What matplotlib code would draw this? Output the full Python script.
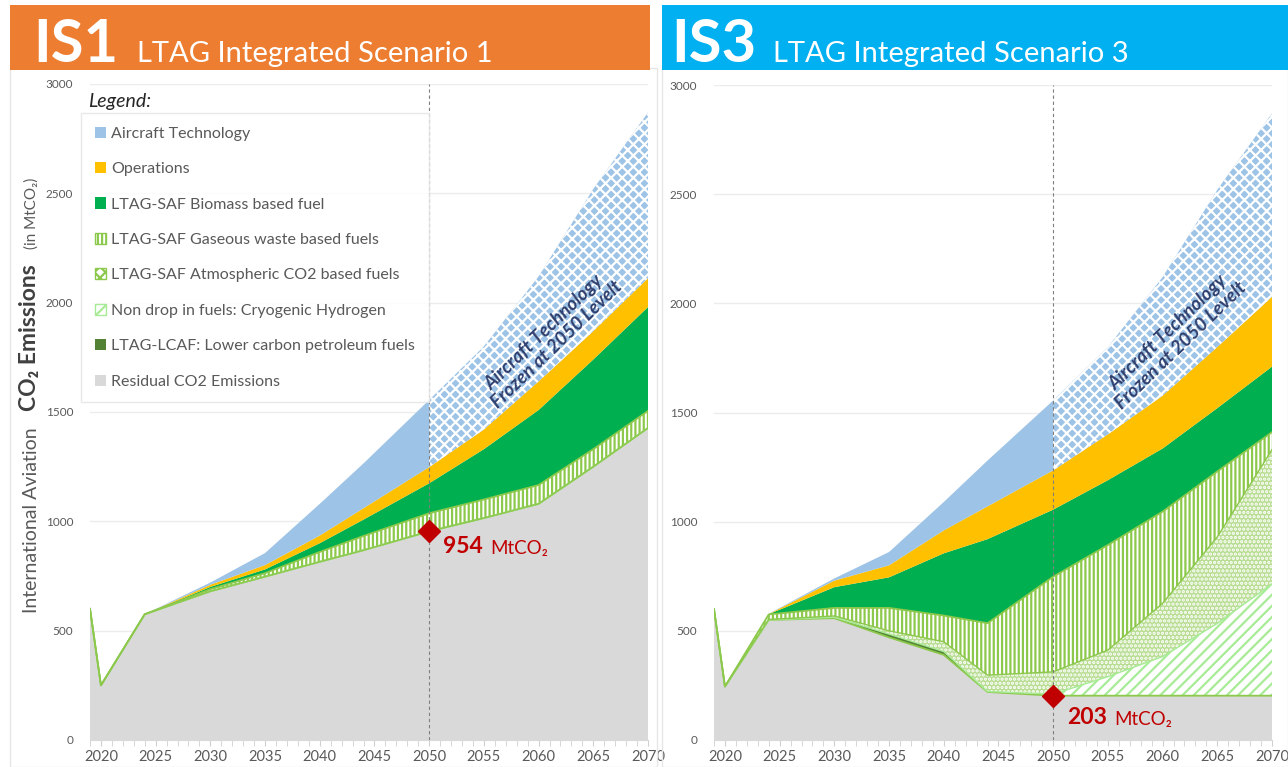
import numpy as np
import matplotlib
matplotlib.use("Agg")
import matplotlib.pyplot as plt
from matplotlib.patches import Patch, Rectangle

plt.rcParams['font.family'] = ['Lato', 'DejaVu Sans']
plt.rcParams['hatch.linewidth'] = 1.6

# ---------------- data (MtCO2) ----------------
years = [2019, 2020, 2024, 2030, 2035, 2040, 2044, 2050, 2055, 2060, 2065, 2070]

# IS1 - contribution of each layer
is1_residual = [600, 250, 575, 680, 747, 815, 868, 954, 1015, 1080, 1250, 1427]
is1_lcaf     = [0, 0, 0, 0, 0, 0, 0, 0, 0, 0, 0, 0]
is1_h2       = [0, 0, 0, 0, 0, 0, 0, 0, 0, 0, 0, 0]
is1_atm      = [0, 0, 0, 0, 0, 0, 0, 0, 0, 0, 0, 0]
is1_gaseous  = [0, 0, 0, 10, 16, 45, 65, 83, 85, 86, 80, 78]
is1_biomass  = [0, 0, 0, 10, 17, 40, 75, 137, 230, 343, 410, 475]
is1_ops      = [0, 0, 0, 10, 20, 35, 52, 74, 90, 131, 130, 132]
is1_aircraft = [0, 0, 0, 10, 55, 145, 205, 307, 380, 480, 650, 758]

# IS3 - contribution of each layer
is3_residual = [600, 245, 550, 558, 470, 390, 220, 203, 203, 203, 203, 203]
is3_lcaf     = [0, 0, 0, 4, 15, 15, 2, 0, 0, 0, 0, 0]
is3_h2       = [0, 0, 0, 0, 0, 0, 0, 7, 87, 179, 331, 512]
is3_atm      = [0, 0, 2, 6, 15, 45, 75, 102, 122, 244, 396, 615]
is3_gaseous  = [0, 0, 23, 37, 105, 120, 238, 436, 481, 420, 300, 80]
is3_biomass  = [0, 0, 1, 95, 140, 285, 385, 307, 297, 289, 290, 300]
is3_ops      = [0, 0, 1, 30, 55, 105, 150, 180, 210, 242, 280, 320]
is3_aircraft = [0, 0, 1, 10, 61, 130, 210, 320, 400, 543, 720, 840]

legend_labels = ["Aircraft Technology", "Operations", "LTAG-SAF Biomass based fuel",
                 "LTAG-SAF Gaseous waste based fuels", "LTAG-SAF Atmospheric CO2 based fuels",
                 "Non drop in fuels: Cryogenic Hydrogen", "LTAG-LCAF: Lower carbon petroleum fuels",
                 "Residual CO2 Emissions"]
xticks = [2020, 2025, 2030, 2035, 2040, 2045, 2050, 2055, 2060, 2065, 2070]
yticks = [0, 500, 1000, 1500, 2000, 2500, 3000]
freeze_year = 2050

# ---------------- styles ----------------
C_BLUE = '#9dc3e6'
C_ORANGE = '#ffc000'
C_GREEN = '#00b050'
C_LGREEN = '#8cc84b'
C_DOTBG = '#b8dd92'
C_H2 = '#a8eb96'
C_DGREEN = '#548235'
C_GRAY = '#d9d9d9'
C_TEXT = '#595959'
C_RED = '#c00000'

styles = [  # bottom -> top
    dict(fc=C_GRAY, ec='none', hatch=None),
    dict(fc=C_DGREEN, ec='none', hatch=None),
    dict(fc='white', ec=C_H2, hatch='///'),
    dict(fc=C_DOTBG, ec='white', hatch='....'),
    dict(fc='white', ec=C_LGREEN, hatch='||||'),
    dict(fc=C_GREEN, ec='none', hatch=None),
    dict(fc=C_ORANGE, ec='none', hatch=None),
    dict(fc=C_BLUE, ec='none', hatch=None),
]

W, H = 1288, 767
fig = plt.figure(figsize=(W / 100, H / 100), dpi=100)
fig.patch.set_facecolor('white')


def fx(px):
    return px / W


def fy(py):
    return 1 - py / H


def draw_panel(ax, layers):
    x = np.array(years, float)
    base = np.zeros(len(x))
    tops = []
    for i, vals in enumerate(layers):
        top = base + np.array(vals, float)
        st = styles[i]
        if i == len(layers) - 1:
            ax.fill_between(x, base, top, where=x <= freeze_year, facecolor=st['fc'],
                            edgecolor='none', linewidth=0, zorder=2)
            ax.fill_between(x, base, top, where=x >= freeze_year, facecolor=C_BLUE,
                            edgecolor='white', hatch='xxx', linewidth=0, zorder=2)
        else:
            ax.fill_between(x, base, top, facecolor=st['fc'], edgecolor=st['ec'],
                            hatch=st['hatch'], linewidth=0, zorder=2)
        tops.append(top)
        base = top
    # outlines of the SAF / hydrogen layers
    ax.plot(x, tops[0], color=C_LGREEN, lw=1.3, zorder=3)
    ax.plot(x, tops[2], color=C_H2, lw=1.0, zorder=3)
    ax.plot(x, tops[3], color=C_LGREEN, lw=1.0, zorder=3)
    ax.plot(x, tops[4], color=C_LGREEN, lw=1.3, zorder=3)

    ax.set_xlim(years[0], years[-1])
    ax.set_ylim(0, 3000)
    ax.set_xticks(xticks)
    ax.set_xticks(range(years[0], years[-1] + 1), minor=True)
    ax.set_yticks(yticks)
    ax.tick_params(axis='x', which='both', colors='#d0d0d0', length=4, labelcolor=C_TEXT,
                   labelsize=10.5, pad=3)
    ax.tick_params(axis='y', length=0, labelcolor=C_TEXT, labelsize=8.5, pad=12)
    for s in ['top', 'right', 'left']:
        ax.spines[s].set_visible(False)
    ax.spines['bottom'].set_color('#d9d9d9')
    ax.grid(axis='y', color='#ececec', lw=1.0, zorder=0)
    ax.set_axisbelow(True)
    ax.axvline(freeze_year, color='#7f7f7f', ls=(0, (3, 2.5)), lw=0.8, zorder=5)
    idx = years.index(freeze_year)
    resid = layers[0][idx]
    ax.plot([freeze_year], [resid], marker='D', ms=11, color=C_RED, zorder=6)
    return resid


# panel frames
for (x0, x1) in [(10, 657), (662, 1288)]:
    fig.patches.append(Rectangle((fx(x0), fy(767)), fx(x1) - fx(x0), fy(68) - fy(767),
                                 transform=fig.transFigure, facecolor='none',
                                 edgecolor='#e6e6e6', lw=1.0, zorder=0))

# title bars
fig.patches.append(Rectangle((fx(10), fy(70)), fx(650) - fx(10), fy(5) - fy(70),
                             transform=fig.transFigure, facecolor='#ed7d31', edgecolor='none'))
fig.patches.append(Rectangle((fx(662), fy(70)), fx(1288) - fx(662), fy(5) - fy(70),
                             transform=fig.transFigure, facecolor='#00b0f0', edgecolor='none'))
fig.text(fx(33), fy(62), 'IS1', color='white', fontsize=43, fontweight='bold', va='baseline')
fig.text(fx(137), fy(62), 'LTAG Integrated Scenario 1', color='white', fontsize=21, va='baseline')
fig.text(fx(671), fy(62), 'IS3', color='white', fontsize=43, fontweight='bold', va='baseline')
fig.text(fx(773), fy(62), 'LTAG Integrated Scenario 3', color='white', fontsize=21, va='baseline')

ax1 = fig.add_axes([fx(90), fy(740), fx(648) - fx(90), fy(84) - fy(740)])
ax2 = fig.add_axes([fx(714), fy(740), fx(1272) - fx(714), fy(85) - fy(740)])

r1 = draw_panel(ax1, [is1_residual, is1_lcaf, is1_h2, is1_atm, is1_gaseous,
                      is1_biomass, is1_ops, is1_aircraft])
r3 = draw_panel(ax2, [is3_residual, is3_lcaf, is3_h2, is3_atm, is3_gaseous,
                      is3_biomass, is3_ops, is3_aircraft])

# annotations of residual emissions in 2050
for ax, r, dy in [(ax1, r1, -11), (ax2, r3, -16)]:
    ax.annotate(f'{r:.0f}', xy=(freeze_year, r), xytext=(10, dy), textcoords='offset points',
                color=C_RED, fontsize=16.5, fontweight='bold', va='center', ha='left', zorder=7)
    ax.annotate('MtCO₂', xy=(freeze_year, r), xytext=(44, dy - 1), textcoords='offset points',
                color=C_RED, fontsize=13.5, va='center', ha='left', zorder=7)

# "frozen" text
for ax in (ax1, ax2):
    ax.text(0.826, 0.612, 'Aircraft Technology\nFrozen at 2050 Levelt', transform=ax.transAxes,
            rotation=44, rotation_mode='anchor', ha='center', va='center',
            fontsize=13.5, fontweight='bold', fontstyle='italic', color='#2f3f6e',
            linespacing=1.05, zorder=6)

# y-axis label (left panel)
fig.text(fx(32), fy(520), 'International Aviation', rotation=90, ha='center', va='center',
         color=C_TEXT, fontsize=14)
fig.text(fx(30), fy(338), 'CO₂ Emissions', rotation=90, ha='center', va='center',
         color='#404040', fontsize=16.5, fontweight='bold')
fig.text(fx(32), fy(213), '(in MtCO₂)', rotation=90, ha='center', va='center',
         color=C_TEXT, fontsize=11)

# legend
handles = [
    Patch(facecolor=C_BLUE, edgecolor='none'),
    Patch(facecolor=C_ORANGE, edgecolor='none'),
    Patch(facecolor=C_GREEN, edgecolor='none'),
    Patch(facecolor='white', edgecolor=C_LGREEN, hatch='||||', lw=1.0),
    Patch(facecolor='white', edgecolor=C_LGREEN, hatch='xxx', lw=1.0),
    Patch(facecolor='white', edgecolor=C_H2, hatch='///', lw=1.0),
    Patch(facecolor=C_DGREEN, edgecolor='none'),
    Patch(facecolor=C_GRAY, edgecolor='none'),
]
leg = fig.legend(handles, legend_labels, loc='upper left',
                 bbox_to_anchor=(fx(81), fy(113)), frameon=True, fontsize=11.5,
                 handlelength=0.7, handleheight=0.7, handletextpad=0.35,
                 labelspacing=1.33, borderpad=0.85, borderaxespad=0, labelcolor=C_TEXT,
                 fancybox=False)
leg.get_frame().set_edgecolor('#e3e3e3')
leg.get_frame().set_linewidth(1.0)
fig.text(fx(88), fy(101), 'Legend:', fontstyle='italic', fontsize=14, color='#262626',
         va='center', ha='left')

fig.savefig('out.png', dpi=100, facecolor='white')
